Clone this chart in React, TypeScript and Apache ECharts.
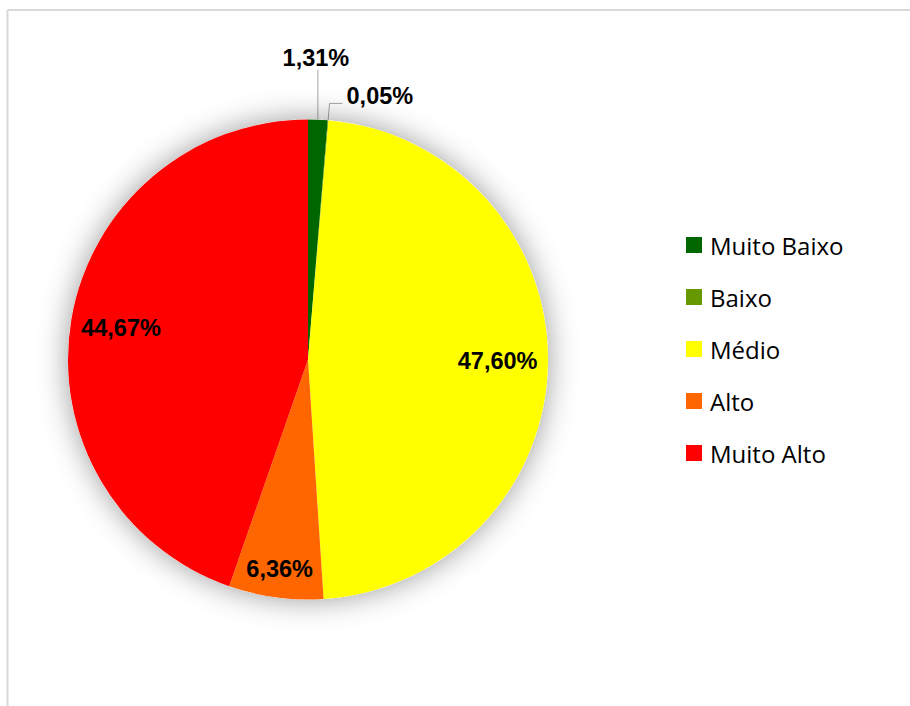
import React, { useEffect, useRef } from 'react';
import * as echarts from 'echarts';

const categories = ['Muito Baixo', 'Baixo', 'Médio', 'Alto', 'Muito Alto'];
const values = [1.31, 0.05, 47.6, 6.36, 44.67];
const colors = ['#006600', '#669900', '#FFFF00', '#FF6600', '#FF0000'];
const outsideItems = [true, true, false, false, false];

const CX = 308;
const CY = 359.5;
const R = 240;
const INSIDE_RATIO = [0, 0, 0.79, 0.88, 0.79];

const total = values.reduce((a, b) => a + b, 0);
const midAngles: number[] = [];
{
  let cum = 0;
  for (const v of values) {
    midAngles.push(((cum + v / 2) / total) * Math.PI * 2);
    cum += v;
  }
}
const polar = (r: number, a: number) => [CX + r * Math.sin(a), CY - r * Math.cos(a)];

const fmt = (v: number) => v.toFixed(2).replace('.', ',') + '%';

export default function App() {
  const ref = useRef<HTMLDivElement>(null);
  useEffect(() => {
    document.body.style.margin = '0';
    const chart = echarts.init(ref.current!, null, { renderer: 'svg' });
    chart.setOption({
      animation: false,
      backgroundColor: '#ffffff',
      graphic: [
        { type: 'line', shape: { x1: 7.5, y1: 10, x2: 910, y2: 10 }, style: { stroke: '#d9d9d9', lineWidth: 2 } },
        { type: 'line', shape: { x1: 7.5, y1: 10, x2: 7.5, y2: 706 }, style: { stroke: '#d9d9d9', lineWidth: 2 } },
      ],
      legend: {
        orient: 'vertical',
        left: 681,
        top: 228,
        icon: 'rect',
        itemWidth: 16,
        itemHeight: 16,
        itemGap: 28,
        selectedMode: false,
        data: categories,
        textStyle: {
          fontFamily: 'Open Sans',
          fontSize: 24,
          color: '#000',
          lineHeight: 24,
          padding: [0, 0, 0, 3],
        },
      },
      series: [
        {
          type: 'pie',
          silent: true,
          center: [CX, CY],
          radius: [0, R],
          label: { show: false },
          labelLine: { show: false },
          itemStyle: { color: '#ffffff', shadowBlur: 30, shadowColor: 'rgba(0,0,0,0.4)' },
          data: [{ value: 1, name: '__bg' }],
        },
        {
          type: 'pie',
          center: [CX, CY],
          radius: [0, R],
          startAngle: 90,
          clockwise: true,
          avoidLabelOverlap: false,
          label: {
            show: true,
            fontFamily: 'Liberation Sans',
            fontWeight: 'bold',
            fontSize: 23.5,
            color: '#000',
            formatter: (p: any) => fmt(p.value),
          },
          labelLine: { show: true, lineStyle: { color: '#a6a6a6', width: 1 } },
          labelLayout: (p: any) => {
            const i = p.dataIndex;
            const a = midAngles[i];
            if (!outsideItems[i]) {
              const [x, y] = polar(R * INSIDE_RATIO[i], a);
              return { x, y, align: 'center', verticalAlign: 'middle' };
            }
            const A = polar(R, a);
            if (i === 0) {
              return {
                x: A[0] - 2,
                y: A[1] - 62,
                align: 'center',
                verticalAlign: 'middle',
                labelLinePoints: [A, [A[0], A[1] - 25], [A[0], A[1] - 50]],
              };
            }
            const E = polar(R + 17, a);
            const End = [E[0] + 13, E[1]];
            return {
              x: End[0] + 4,
              y: E[1] - 7,
              align: 'left',
              verticalAlign: 'middle',
              labelLinePoints: [A, E, End],
            };
          },
          data: categories.map((name, i) => ({
            name,
            value: values[i],
            itemStyle: { color: colors[i] },
            label: { position: outsideItems[i] ? 'outside' : 'inside' },
            labelLine: { show: outsideItems[i] },
          })),
        },
      ],
    });
    return () => chart.dispose();
  }, []);
  return <div ref={ref} style={{ width: 910, height: 706 }} />;
}
